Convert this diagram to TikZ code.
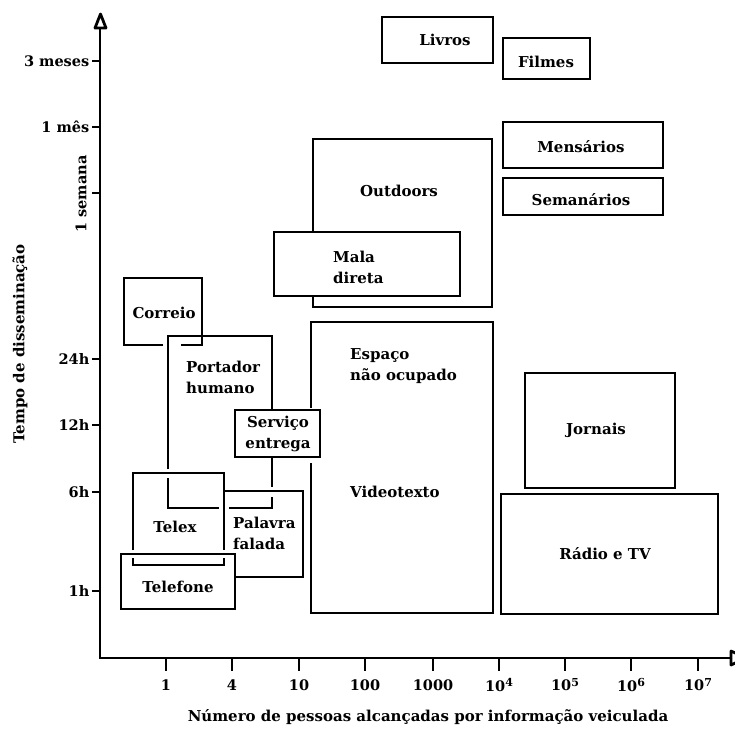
\documentclass[tikz,border=0pt]{standalone}
\usepackage{fontspec}
\setmainfont{DejaVu Serif}
\begin{document}
\begin{tikzpicture}[x=1pt,y=-1pt]
\tikzset{
  boxline/.style={line width=1.8pt, line join=miter},
  axisline/.style={line width=2.4pt},
  tickline/.style={line width=1.8pt},
  headline/.style={line width=2.8pt, line join=round, fill=white},
  lbl/.style={font=\fontsize{15}{21}\selectfont\bfseries, inner sep=0pt, align=left},
  ticklbl/.style={font=\fontsize{14.5}{19}\selectfont\bfseries, inner sep=0pt},
  ttl/.style={font=\fontsize{15}{19}\selectfont\bfseries, inner sep=0pt}
}
\useasboundingbox (0,0) rectangle (735,728);
\clip (0,0) rectangle (735,728);

% ---- axes ----
\coordinate (origin) at (100,658);
\coordinate (ytop) at (100,28);
\coordinate (xend) at (731,658);
\draw[axisline] (ytop) -- (origin) -- (xend);
\draw[headline] (100.5,14) -- (95,28) -- (106,28) -- cycle;
\draw[headline] (746,658) -- (731,651) -- (731,665) -- cycle;

% ---- y ticks ----
\foreach \yy/\txt/\nm in {61/3 meses/ya, 127/1 mês/yb, 359/24h/yd, 425/12h/ye, 492/6h/yf, 591/1h/yg}{
  \draw[tickline] (92,\yy) -- (100,\yy);
  \node[ticklbl, anchor=east] (\nm) at (89.5,\yy) {\txt};
}
\draw[tickline] (92,193) -- (100,193);
\node[ticklbl, rotate=90] (yc) at (81,194) {1 semana};

% ---- x ticks ----
\foreach \xx/\txt/\nm in {166/1/xa, 232/4/xb, 299/10/xc, 365/100/xd, 433/1000/xe,
    499/10\raisebox{0.55ex}{\fontsize{11}{11}\selectfont 4}/xf,
    565/10\raisebox{0.55ex}{\fontsize{11}{11}\selectfont 5}/xg,
    631/10\raisebox{0.55ex}{\fontsize{11}{11}\selectfont 6}/xh,
    698/10\raisebox{0.55ex}{\fontsize{11}{11}\selectfont 7}/xi}{
  \draw[tickline] (\xx,658) -- (\xx,671);
  \node[ticklbl] (\nm) at (\xx,685) {\txt};
}

% ---- axis titles ----
\node[ttl, rotate=90] (ytitle) at (20,344) {Tempo de disseminação};
\node[ttl] (xtitle) at (428,717) {Número de pessoas alcançadas por informação veiculada};

% ---- upper media ----
\draw[boxline] (382,17) rectangle (493,63);
\node[lbl] (livros) at (445,40) {Livros};
\draw[boxline] (503,38) rectangle (590,79);
\node[lbl] (filmes) at (546,62) {Filmes};
\draw[boxline] (503,122) rectangle (663,168);
\node[lbl] (mensarios) at (581,147) {Mensários};
\draw[boxline] (503,178) rectangle (663,215);
\node[lbl] (semanarios) at (581,200) {Semanários};

\draw[boxline] (313,139) rectangle (492,307);
\node[lbl] (outdoors) at (399,191) {Outdoors};
\draw[boxline, fill=white] (274,232) rectangle (460,296);
\node[lbl, anchor=west] (mala) at (333,267) {Mala\\direta};

% ---- large middle box ----
\draw[boxline] (311,408) -- (311,322) -- (493,322) -- (493,613) -- (311,613) -- (311,463);
\node[lbl, anchor=west] (espaco) at (350,366) {Espaço\\não ocupado};
\node[lbl, anchor=west] (videotexto) at (350,492) {Videotexto};

% ---- mass media ----
\draw[boxline] (525,373) rectangle (675,488);
\node[lbl] (jornais) at (596,430) {Jornais};
\draw[boxline] (501,494) rectangle (718,614);
\node[lbl] (radio) at (605,554) {Rádio e TV};

% ---- personal media ----
\draw[boxline] (163,345) -- (124,345) -- (124,278) -- (202,278) -- (202,345) -- (181,345);
\node[lbl] (correio) at (164,313) {Correio};

\draw[boxline] (168,469) -- (168,336) -- (272,336) -- (272,411);
\draw[boxline] (272,457) -- (272,487);
\draw[boxline] (272,497) -- (272,508) -- (229,508);
\draw[boxline] (219,508) -- (168,508) -- (168,478);
\node[lbl, anchor=west] (portador) at (186,377) {Portador\\humano};

\draw[boxline] (133,550) -- (133,473) -- (224,473) -- (224,550);
\draw[boxline] (133,558) -- (133,565) -- (224,565) -- (224,558);
\node[lbl] (telex) at (175,527) {Telex};

\draw[boxline] (224,491) -- (303,491) -- (303,577) -- (235,577);
\node[lbl, anchor=west] (palavra) at (233,533) {Palavra\\falada};

\draw[boxline] (121,554) rectangle (235,609);
\node[lbl] (telefone) at (178,587) {Telefone};

\draw[boxline, fill=white] (235,410) rectangle (320,457);
\node[lbl, align=center] (servico) at (278,434) {Serviço\\entrega};
\end{tikzpicture}
\end{document}
